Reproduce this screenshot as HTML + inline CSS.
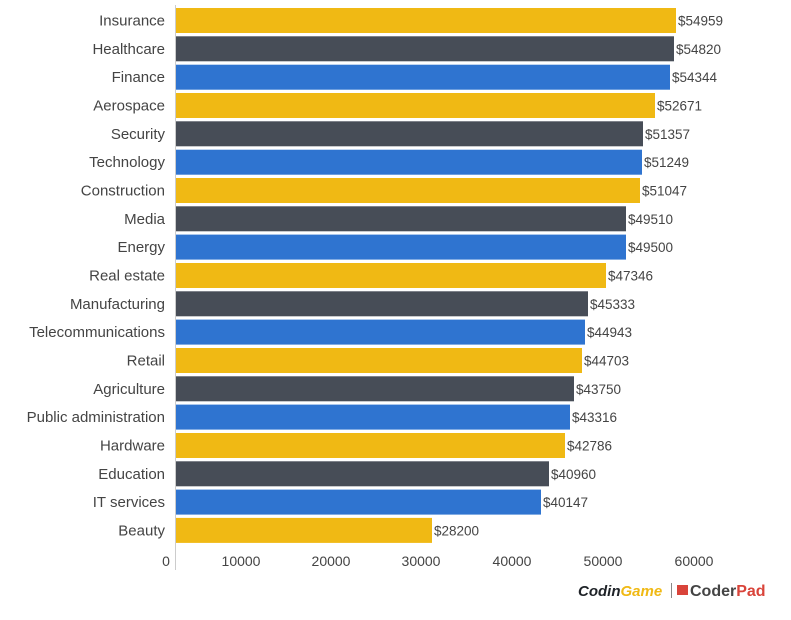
<!DOCTYPE html>
<html><head><meta charset="utf-8"><style>
html,body{margin:0;padding:0;background:#fff;}
svg{display:block;font-family:"Liberation Sans","DejaVu Sans",sans-serif;}
.y{fill:#f0b914}.k{fill:#474d57}.b{fill:#2f74d0}
</style></head><body>
<svg width="791" height="620" viewBox="0 0 791 620">
<line x1="175.5" y1="5" x2="175.5" y2="570" stroke="#ccc" stroke-width="1"/>
<g>
<rect class="y" x="176" y="8" width="500" height="25"/>
<rect class="k" x="176" y="36.3" width="498" height="25"/>
<rect class="b" x="176" y="64.7" width="494" height="25"/>
<rect class="y" x="176" y="93" width="479" height="25"/>
<rect class="k" x="176" y="121.3" width="467" height="25"/>
<rect class="b" x="176" y="149.7" width="466" height="25"/>
<rect class="y" x="176" y="178" width="464" height="25"/>
<rect class="k" x="176" y="206.3" width="450" height="25"/>
<rect class="b" x="176" y="234.6" width="450" height="25"/>
<rect class="y" x="176" y="263" width="430" height="25"/>
<rect class="k" x="176" y="291.3" width="412" height="25"/>
<rect class="b" x="176" y="319.6" width="409" height="25"/>
<rect class="y" x="176" y="348" width="406" height="25"/>
<rect class="k" x="176" y="376.3" width="398" height="25"/>
<rect class="b" x="176" y="404.6" width="394" height="25"/>
<rect class="y" x="176" y="433" width="389" height="25"/>
<rect class="k" x="176" y="461.3" width="373" height="25"/>
<rect class="b" x="176" y="489.6" width="365" height="25"/>
<rect class="y" x="176" y="517.9" width="256" height="25"/>
</g>
<g font-size="15" fill="#444" text-anchor="end">
<text x="165" y="25.5">Insurance</text>
<text x="165" y="53.8">Healthcare</text>
<text x="165" y="82.2">Finance</text>
<text x="165" y="110.5">Aerospace</text>
<text x="165" y="138.8">Security</text>
<text x="165" y="167.2">Technology</text>
<text x="165" y="195.5">Construction</text>
<text x="165" y="223.8">Media</text>
<text x="165" y="252.1">Energy</text>
<text x="165" y="280.5">Real estate</text>
<text x="165" y="308.8">Manufacturing</text>
<text x="165" y="337.1">Telecommunications</text>
<text x="165" y="365.5">Retail</text>
<text x="165" y="393.8">Agriculture</text>
<text x="165" y="422.1">Public administration</text>
<text x="165" y="450.5">Hardware</text>
<text x="165" y="478.8">Education</text>
<text x="165" y="507.1">IT services</text>
<text x="165" y="535.4">Beauty</text>
</g>
<g font-size="13.5" fill="#444">
<text x="678" y="25.5">$54959</text>
<text x="676" y="53.8">$54820</text>
<text x="672" y="82.2">$54344</text>
<text x="657" y="110.5">$52671</text>
<text x="645" y="138.8">$51357</text>
<text x="644" y="167.2">$51249</text>
<text x="642" y="195.5">$51047</text>
<text x="628" y="223.8">$49510</text>
<text x="628" y="252.1">$49500</text>
<text x="608" y="280.5">$47346</text>
<text x="590" y="308.8">$45333</text>
<text x="587" y="337.1">$44943</text>
<text x="584" y="365.5">$44703</text>
<text x="576" y="393.8">$43750</text>
<text x="572" y="422.1">$43316</text>
<text x="567" y="450.5">$42786</text>
<text x="551" y="478.8">$40960</text>
<text x="543" y="507.1">$40147</text>
<text x="434" y="535.4">$28200</text>
</g>
<g font-size="14" fill="#444" text-anchor="middle">
<text x="166" y="566">0</text>
<text x="241" y="566">10000</text>
<text x="331" y="566">20000</text>
<text x="421" y="566">30000</text>
<text x="512" y="566">40000</text>
<text x="603" y="566">50000</text>
<text x="694" y="566">60000</text>
</g>
<text x="578" y="596" font-size="15" font-weight="bold" font-style="italic" fill="#1f2328">Codin<tspan fill="#f0b914">Game</tspan></text>
<line x1="671.5" y1="583" x2="671.5" y2="598" stroke="#888"/>
<rect x="677" y="585" width="11" height="10" fill="#d9443a"/>
<text x="690" y="596" font-size="16" font-weight="bold" fill="#444">Coder<tspan fill="#d9443a">Pad</tspan></text>
</svg>
</body></html>
